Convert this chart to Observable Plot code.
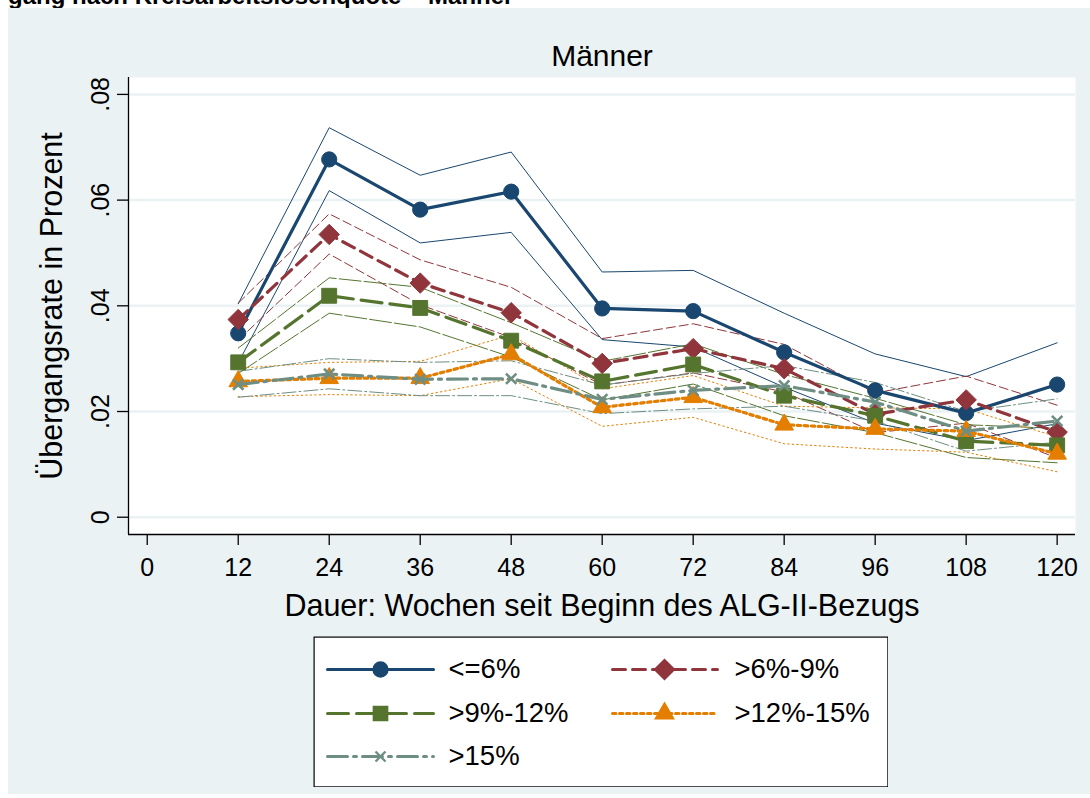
<!DOCTYPE html>
<html><head><meta charset="utf-8">
<script src="https://cdn.jsdelivr.net/npm/d3@7"></script>
<script src="https://cdn.jsdelivr.net/npm/@observablehq/plot@0.6"></script>
<style>
body{margin:0;background:#fff;font-family:"Liberation Sans",Arial,sans-serif;overflow:hidden;}
#wrap{position:relative;width:1090px;height:798px;overflow:hidden;}
#panel{position:absolute;left:8px;top:8px;width:1082px;height:786px;background:#EAF2F3;}
#toptitle{position:absolute;left:8px;top:-16px;font-weight:bold;font-size:24px;line-height:24px;white-space:nowrap;color:#000;}
#chart{position:absolute;left:0;top:0;}
#legend{position:absolute;left:313px;top:636px;}
</style></head><body>
<div id="wrap">
<div id="toptitle">gang nach Kreisarbeitslosenquote – Männer</div>
<div id="panel"></div>
<div id="chart"></div>
<div id="legend"></div>
</div>
<script>
// ---- data ----
const weeks = [12, 24, 36, 48, 60, 72, 84, 96, 108, 120];
const seriesNames = ["<=6%", ">6%-9%", ">9%-12%", ">12%-15%", ">15%"];

const meanLe6 = [0.0348, 0.0677, 0.0582, 0.0616, 0.0395, 0.0390, 0.0312, 0.0240, 0.0197, 0.0251];
const hiLe6   = [0.0404, 0.0737, 0.0647, 0.0691, 0.0464, 0.0467, 0.0386, 0.0309, 0.0266, 0.0330];
const loLe6   = [0.0292, 0.0618, 0.0519, 0.0539, 0.0336, 0.0322, 0.0246, 0.0178, 0.0145, 0.0177];

const mean6to9 = [0.0374, 0.0535, 0.0443, 0.0387, 0.0291, 0.0319, 0.0281, 0.0195, 0.0222, 0.0161];
const hi6to9   = [0.0405, 0.0574, 0.0487, 0.0435, 0.0338, 0.0366, 0.0327, 0.0235, 0.0267, 0.0212];
const lo6to9   = [0.0335, 0.0498, 0.0402, 0.0340, 0.0250, 0.0273, 0.0237, 0.0160, 0.0178, 0.0112];

const mean9to12 = [0.0293, 0.0419, 0.0396, 0.0334, 0.0257, 0.0289, 0.0230, 0.0192, 0.0144, 0.0136];
const hi9to12   = [0.0320, 0.0453, 0.0435, 0.0368, 0.0295, 0.0328, 0.0270, 0.0225, 0.0175, 0.0168];
const lo9to12   = [0.0272, 0.0386, 0.0360, 0.0303, 0.0222, 0.0252, 0.0192, 0.0160, 0.0113, 0.0103];

const mean12to15 = [0.0257, 0.0263, 0.0263, 0.0308, 0.0208, 0.0227, 0.0175, 0.0167, 0.0163, 0.0120];
const hi12to15   = [0.0282, 0.0293, 0.0295, 0.0345, 0.0243, 0.0268, 0.0210, 0.0207, 0.0205, 0.0152];
const lo12to15   = [0.0228, 0.0232, 0.0230, 0.0262, 0.0172, 0.0189, 0.0139, 0.0129, 0.0123, 0.0086];

const meanGt15 = [0.0251, 0.0271, 0.0261, 0.0262, 0.0223, 0.0240, 0.0249, 0.0218, 0.0163, 0.0182];
const hiGt15   = [0.0276, 0.0300, 0.0293, 0.0296, 0.0250, 0.0272, 0.0287, 0.0255, 0.0200, 0.0224];
const loGt15   = [0.0227, 0.0243, 0.0230, 0.0230, 0.0196, 0.0205, 0.0210, 0.0182, 0.0125, 0.0142];

const xTicks = [0, 12, 24, 36, 48, 60, 72, 84, 96, 108, 120];
const yTicks = [0, 0.02, 0.04, 0.06, 0.08];
const panelTitle = "Männer";
const xTitle = "Dauer: Wochen seit Beginn des ALG-II-Bezugs";
const yTitle = "Übergangsrate in Prozent";

// ---- styles ----
const colors = ["#1A476F", "#90353B", "#55752F", "#E37E00", "#6E8E84"];
const dashMean = [null, "13,7", "21,8", "3.5,3.5", "20,6,3,6"];
const dashCI = [null, "9,4", "22,3", "1.5,3", "14,3,2,3"];
const symbols = ["circle", "diamond2", "square", "triangle", "times"];
const symR = [7.6, 9.2, 8.4, 6.9, 4.8];
const legR = [7.4, 9.0, 8.0, 6.8, 4.6];

const means = [meanLe6, mean6to9, mean9to12, mean12to15, meanGt15];
const his = [hiLe6, hi6to9, hi9to12, hi12to15, hiGt15];
const los = [loLe6, lo6to9, lo9to12, lo12to15, loGt15];

const tables = seriesNames.map((name, i) =>
  weeks.map((w, j) => ({series: name, week: w, mean: means[i][j], hi: his[i][j], lo: los[i][j]})));

const xDomain = [-2.47, 122.42];
const yDomain = [-0.00327, 0.0832];
const fmtY = d => d === 0 ? "0" : d.toFixed(2).replace(/^0/, "");

const ciMarks = [];
const meanMarks = [];
tables.forEach((t, i) => {
  ["hi", "lo"].forEach(k => ciMarks.push(Plot.line(t, {
    x: "week", y: k, stroke: colors[i], strokeWidth: 1, strokeDasharray: dashCI[i] || undefined
  })));
});
tables.forEach((t, i) => {
  meanMarks.push(Plot.line(t, {
    x: "week", y: "mean", stroke: colors[i], strokeWidth: 3.2, strokeDasharray: dashMean[i] || undefined
  }));
  if (symbols[i] === "times") {
    meanMarks.push(Plot.dot(t, {x: "week", y: "mean", symbol: symbols[i], r: symR[i], stroke: colors[i], strokeWidth: 2.6}));
  } else {
    meanMarks.push(Plot.dot(t, {x: "week", y: "mean", symbol: symbols[i], r: symR[i], fill: colors[i], stroke: colors[i], strokeWidth: 1}));
  }
});

const chart = Plot.plot({
  width: 1090, height: 640,
  marginLeft: 128, marginRight: 15, marginTop: 77, marginBottom: 106,
  style: {background: "transparent", fontFamily: "'Liberation Sans', Arial, sans-serif", color: "black", overflow: "visible"},
  x: {domain: xDomain, label: null},
  y: {domain: yDomain, label: null},
  marks: [
    Plot.frame({fill: "white", stroke: null}),
    Plot.ruleY(yTicks, {stroke: "#EAF2F3", strokeWidth: 2.5}),
    ...ciMarks,
    ...meanMarks,
    Plot.ruleX([xDomain[0]], {stroke: "black", strokeWidth: 1.3}),
    Plot.ruleY([yDomain[0]], {stroke: "black", strokeWidth: 1.3}),
    Plot.axisX({ticks: xTicks, tickSize: 11, tickPadding: 13, fontSize: 25, tickFormat: d => String(d), label: null, strokeWidth: 1.3}),
    Plot.axisY({ticks: yTicks, tickSize: 11, tickPadding: 9, tickRotate: -90, fontSize: 25, tickFormat: fmtY, label: null, strokeWidth: 1.3}),
    Plot.text([panelTitle], {frameAnchor: "top", dy: -21, fontSize: 30, lineAnchor: "middle"}),
    Plot.text([xTitle], {frameAnchor: "bottom", dy: 72, fontSize: 30.5, lineAnchor: "middle"}),
    Plot.text([yTitle], {frameAnchor: "left", dx: -76, rotate: -90, fontSize: 30.5, lineAnchor: "middle", textAnchor: "middle"})
  ]
});
document.getElementById("chart").appendChild(chart);

// ---- legend ----
const colX0 = [14, 299], colX1 = [120, 404], colMark = [67, 351], colText = [135, 421];
const rowY = [33, 77, 120];
const legendItems = seriesNames.map((name, i) => ({
  name, i, x0: colX0[i % 2], x1: colX1[i % 2], xm: colMark[i % 2], xt: colText[i % 2], y: rowY[Math.floor(i / 2)]
}));
const legMarks = [Plot.frame({fill: "white", stroke: "black", strokeWidth: 1.2, inset: 0.6})];
legendItems.forEach(d => {
  legMarks.push(Plot.line([{x: d.x0, y: d.y}, {x: d.x1, y: d.y}], {x: "x", y: "y", stroke: colors[d.i], strokeWidth: 3, strokeDasharray: dashMean[d.i] || undefined}));
  if (symbols[d.i] === "times") {
    legMarks.push(Plot.dot([d], {x: "xm", y: "y", symbol: symbols[d.i], r: legR[d.i], stroke: colors[d.i], strokeWidth: 2.4}));
  } else {
    legMarks.push(Plot.dot([d], {x: "xm", y: "y", symbol: symbols[d.i], r: legR[d.i], fill: colors[d.i], stroke: colors[d.i]}));
  }
  legMarks.push(Plot.text([d], {x: "xt", y: "y", text: "name", textAnchor: "start", lineAnchor: "middle", fontSize: 27.5}));
});
const legend = Plot.plot({
  width: 575, height: 151, margin: 0,
  style: {background: "transparent", fontFamily: "'Liberation Sans', Arial, sans-serif", color: "black"},
  x: {domain: [0, 575], range: [0, 575], axis: null},
  y: {domain: [0, 151], range: [0, 151], axis: null},
  marks: legMarks
});
document.getElementById("legend").appendChild(legend);
</script>
</body></html>
